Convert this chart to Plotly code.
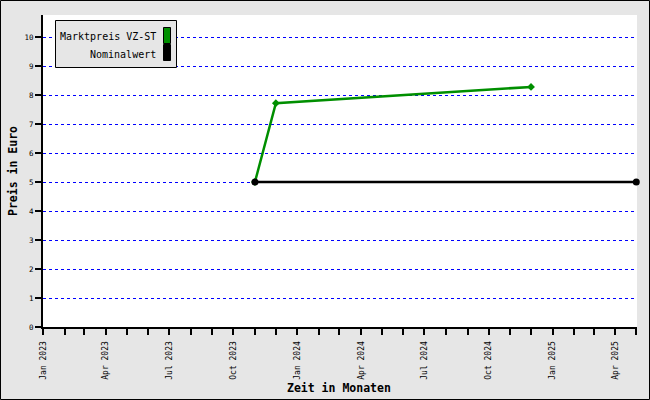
import plotly.graph_objects as go

# ---- data ----
markt_dates = ["2023-11-01", "2023-12-01", "2024-12-01"]
markt_values = [5.0, 7.72, 8.28]
nominal_dates = ["2023-11-01", "2025-05-01"]
nominal_values = [5.0, 5.0]

tick_dates = ["2023-01-01", "2023-04-01", "2023-07-01", "2023-10-01", "2024-01-01",
              "2024-04-01", "2024-07-01", "2024-10-01", "2025-01-01", "2025-04-01"]
tick_labels = ["Jan 2023", "Apr 2023", "Jul 2023", "Oct 2023", "Jan 2024",
               "Apr 2024", "Jul 2024", "Oct 2024", "Jan 2025", "Apr 2025"]
y_ticks = list(range(0, 11))
legend_names = ["Marktpreis VZ-ST", "Nominalwert"]

GREEN = "#008f00"
BLACK = "#000000"
FONT = "DejaVu Sans Mono"

W, H = 650, 400
ML, MR, MT, MB = 43, 13, 15, 73
PW, PH = W - ML - MR, H - MT - MB


def px(x):
    return (x - ML) / PW


def py(y):
    return (H - MB - y) / PH


fig = go.Figure()
fig.add_trace(go.Scatter(x=markt_dates, y=markt_values, mode="lines+markers",
                         line=dict(color=GREEN, width=2.5),
                         marker=dict(symbol="diamond", size=6, color=GREEN),
                         name=legend_names[0], showlegend=False, cliponaxis=False))
fig.add_trace(go.Scatter(x=nominal_dates, y=nominal_values, mode="lines+markers",
                         line=dict(color=BLACK, width=2.5),
                         marker=dict(symbol="circle", size=7, color=BLACK),
                         name=legend_names[1], showlegend=False, cliponaxis=False))

shapes = []
annotations = []
# outer border
shapes.append(dict(type="rect", xref="paper", yref="paper",
                   x0=px(0.5), x1=px(649.5), y0=py(0.5), y1=py(399.5),
                   line=dict(color=BLACK, width=1), fillcolor="rgba(0,0,0,0)", layer="above"))
# legend box
shapes.append(dict(type="rect", xref="paper", yref="paper",
                   x0=px(55.5), x1=px(176.5), y0=py(20.5), y1=py(67.5),
                   line=dict(color=BLACK, width=1), fillcolor="#e6e6e6", layer="above"))
swatch_colors = [GREEN, BLACK]
swatch_y = [(27, 43), (44, 60)]
text_y = [37, 54]
for name, col, (sy0, sy1), ty in zip(legend_names, swatch_colors, swatch_y, text_y):
    shapes.append(dict(type="rect", xref="paper", yref="paper",
                       x0=px(163.5), x1=px(170.5), y0=py(sy0 + 0.5), y1=py(sy1 + 0.5),
                       line=dict(color=BLACK, width=1), fillcolor=col, layer="above"))
    annotations.append(dict(xref="paper", yref="paper", x=px(157.5), y=py(ty),
                            text=name, showarrow=False, xanchor="right", yanchor="middle",
                            font=dict(family=FONT, size=10, color=BLACK)))

# axis titles
annotations.append(dict(xref="paper", yref="paper", x=px(339), y=py(388),
                        text="<b>Zeit in Monaten</b>", showarrow=False,
                        xanchor="center", yanchor="middle",
                        font=dict(family=FONT, size=11.5, color=BLACK)))
annotations.append(dict(xref="paper", yref="paper", x=px(13), y=py(171),
                        text="<b>Preis in Euro</b>", showarrow=False, textangle=-90,
                        xanchor="center", yanchor="middle",
                        font=dict(family=FONT, size=11.5, color=BLACK)))

fig.update_layout(
    width=W, height=H,
    margin=dict(l=ML, r=MR, t=MT, b=MB, pad=0),
    paper_bgcolor="#e6e6e6", plot_bgcolor="#ffffff",
    showlegend=False,
    shapes=shapes, annotations=annotations,
    font=dict(family=FONT, size=8, color=BLACK),
    xaxis=dict(type="date", range=["2023-01-01", "2025-05-02"],
               tickmode="array", tickvals=tick_dates, ticktext=tick_labels,
               tickangle=-90, ticks="outside", ticklen=6, tickwidth=1.5, tickcolor=BLACK,
               ticklabelstandoff=3,
               showgrid=False, zeroline=False, showline=True, linecolor=BLACK, linewidth=2,
               tickfont=dict(family=FONT, size=8, color=BLACK),
               minor=dict(dtick="M1", tick0="2023-01-01", ticks="outside", ticklen=6,
                          tickwidth=1.5, tickcolor=BLACK, showgrid=False)),
    yaxis=dict(range=[0, 10.76], tickmode="array", tickvals=y_ticks,
               ticktext=[str(v) for v in y_ticks],
               ticks="outside", ticklen=6, tickwidth=1.5, tickcolor=BLACK,
               showgrid=True, gridcolor="#0000ff", griddash="dot", gridwidth=1,
               zeroline=False, showline=True, linecolor=BLACK, linewidth=2,
               tickfont=dict(family=FONT, size=7.5, color=BLACK)),
)

fig.write_html("out.html", config={"displayModeBar": False},
               post_script="document.body.style.margin='0';document.body.style.overflow='hidden';")
